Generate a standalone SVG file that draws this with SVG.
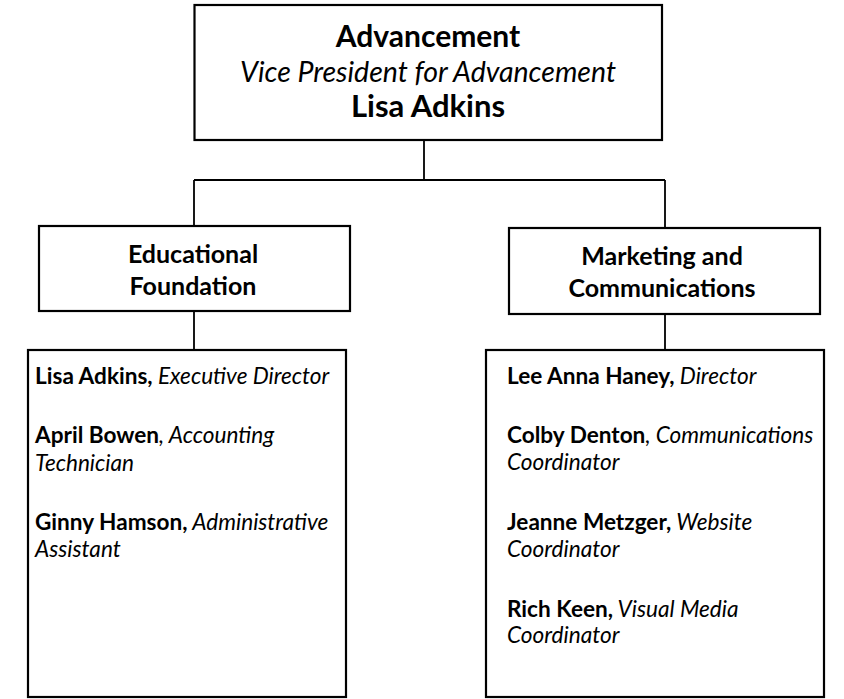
<svg xmlns="http://www.w3.org/2000/svg" width="844" height="699" viewBox="0 0 844 699">
<style>
  .box{fill:#fff;stroke:#000;stroke-width:2.2}
  .conn{fill:none;stroke:#000;stroke-width:1.8}
  text{font-family:Lato,"Open Sans","Liberation Sans",sans-serif;fill:#000}
  .t{text-anchor:middle}
  .m{font-size:25px;font-weight:bold;text-anchor:middle}
  .p{font-size:22.6px}
  .b{font-weight:bold}
  .i{font-style:italic}
</style>
<g id="connectors">
  <path class="conn" d="M424,140 V180 M194,180 H665 M194,180 V226 M665,180 V228 M194,311 V350 M665,314 V350"/>
</g>
<g id="advancement">
  <rect class="box" x="194.5" y="5" width="467.5" height="135"/>
  <text class="t b" x="428" y="47" style="font-size:30px">Advancement</text>
  <text class="t i" x="428" y="82" style="font-size:28.5px">Vice President for Advancement</text>
  <text class="t b" x="428" y="117" style="font-size:31px">Lisa Adkins</text>
</g>
<g id="educational-foundation">
  <rect class="box" x="39" y="226" width="311" height="85"/>
  <text class="m" x="193" y="263">Educational</text>
  <text class="m" x="193" y="295">Foundation</text>
</g>
<g id="marketing">
  <rect class="box" x="509" y="228" width="311" height="86"/>
  <text class="m" x="662" y="265">Marketing and</text>
  <text class="m" x="662" y="297">Communications</text>
</g>
<g id="foundation-staff">
  <rect class="box" x="28" y="350" width="318" height="347"/>
  <text class="p" x="35" y="384"><tspan class="b">Lisa Adkins,</tspan><tspan class="i"> Executive Director</tspan></text>
  <text class="p" x="35" y="443"><tspan class="b">April Bowen</tspan><tspan class="i">, Accounting</tspan></text>
  <text class="p i" x="35" y="471">Technician</text>
  <text class="p" x="35" y="530"><tspan class="b">Ginny Hamson,</tspan><tspan class="i"> Administrative</tspan></text>
  <text class="p i" x="35" y="557">Assistant</text>
</g>
<g id="marcom-staff">
  <rect class="box" x="486" y="350" width="338" height="347"/>
  <text class="p" x="507" y="384"><tspan class="b">Lee Anna Haney,</tspan><tspan class="i"> Director</tspan></text>
  <text class="p" x="507" y="443"><tspan class="b">Colby Denton</tspan><tspan class="i">, Communications</tspan></text>
  <text class="p i" x="507" y="470">Coordinator</text>
  <text class="p" x="507" y="530"><tspan class="b">Jeanne Metzger,</tspan><tspan class="i"> Website</tspan></text>
  <text class="p i" x="507" y="557">Coordinator</text>
  <text class="p" x="507" y="617"><tspan class="b">Rich Keen,</tspan><tspan class="i"> Visual Media</tspan></text>
  <text class="p i" x="507" y="643">Coordinator</text>
</g>
</svg>
